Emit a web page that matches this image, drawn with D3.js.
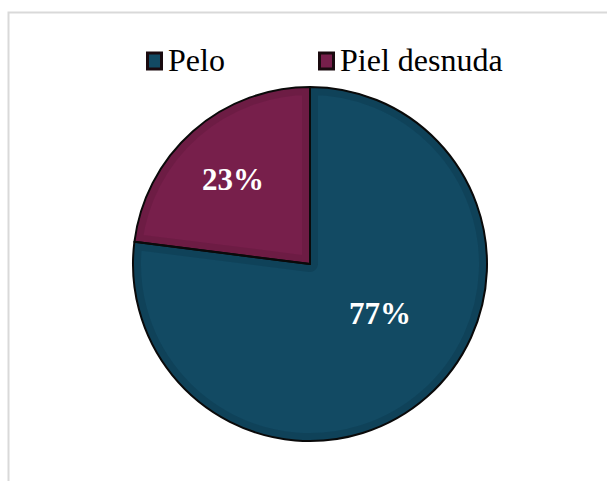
<!DOCTYPE html>
<html>
<head>
<meta charset="utf-8">
<script src="https://cdn.jsdelivr.net/npm/d3@7/dist/d3.min.js"></script>
<style>
  html, body { margin: 0; padding: 0; background: #fff; }
  svg { display: block; }
</style>
</head>
<body>
<div id="chart"></div>
<script>
// Share of cases by surface type
const categories = ["Pelo", "Piel desnuda"];
const values = [77, 23];
const colors = ["#124a63", "#771f4b"];
const shadeColors = ["#0d3d52", "#661a40"];

const W = 607, H = 481;
const cx = 310, cy = 264, R = 177;

const svg = d3.select("#chart").append("svg")
  .attr("width", W).attr("height", H);

// chart area frame
svg.append("rect")
  .attr("x", 8.5).attr("y", 12.5)
  .attr("width", 640).attr("height", 520)
  .attr("fill", "#fff")
  .attr("stroke", "#d9d9d9").attr("stroke-width", 2);

const data = categories.map((c, i) => ({ cat: c, value: values[i], i }));

// Pelo starts at 12 o'clock going clockwise; Piel desnuda fills the rest
const pie = d3.pie().sort(null).value(d => d.value);
const arcs = pie(data);

const arc = d3.arc().innerRadius(0).outerRadius(R);

const g = svg.append("g").attr("transform", `translate(${cx},${cy})`);
const defs = svg.append("defs");

arcs.forEach((a, i) => {
  defs.append("clipPath").attr("id", "clip" + i)
    .append("path").attr("d", arc(a));
});

// slice fill
g.selectAll("path.slice").data(arcs).enter().append("path")
  .attr("class", "slice")
  .attr("d", arc)
  .attr("fill", d => colors[d.data.i]);

// soft darker band along the inside of each slice
g.selectAll("path.shade").data(arcs).enter().append("path")
  .attr("class", "shade")
  .attr("d", arc)
  .attr("fill", "none")
  .attr("stroke", d => shadeColors[d.data.i])
  .attr("stroke-width", 16)
  .attr("stroke-opacity", 0.55)
  .attr("stroke-linejoin", "round")
  .attr("clip-path", (d, i) => `url(#clip${i})`);

// outline
g.selectAll("path.edge").data(arcs).enter().append("path")
  .attr("class", "edge")
  .attr("d", arc)
  .attr("fill", "none")
  .attr("stroke", "#0a0a0a")
  .attr("stroke-width", 2)
  .attr("stroke-linejoin", "round");

// value labels
const labelOffset = { "Pelo": [70, 49], "Piel desnuda": [-77, -85] };
g.selectAll("text.val").data(arcs).enter().append("text")
  .attr("class", "val")
  .attr("x", d => labelOffset[d.data.cat][0])
  .attr("y", d => labelOffset[d.data.cat][1])
  .attr("text-anchor", "middle")
  .attr("dominant-baseline", "central")
  .attr("font-family", "'Liberation Serif', 'Times New Roman', serif")
  .attr("font-weight", "bold")
  .attr("font-size", 31)
  .attr("fill", "#fff")
  .text(d => d.data.value + "%");

// legend
const legendX = [146, 318];
const legend = svg.append("g");
categories.forEach((c, i) => {
  const lg = legend.append("g").attr("transform", `translate(${legendX[i]},0)`);
  lg.append("rect")
    .attr("x", 1.5).attr("y", 53).attr("width", 14).attr("height", 16)
    .attr("fill", colors[i]).attr("stroke", "#1a0a0f").attr("stroke-width", 3);
  lg.append("text")
    .attr("x", 22).attr("y", 71)
    .attr("font-family", "'Liberation Serif', 'Times New Roman', serif")
    .attr("font-size", 32)
    .attr("fill", "#000")
    .text(c);
});
</script>
</body>
</html>
